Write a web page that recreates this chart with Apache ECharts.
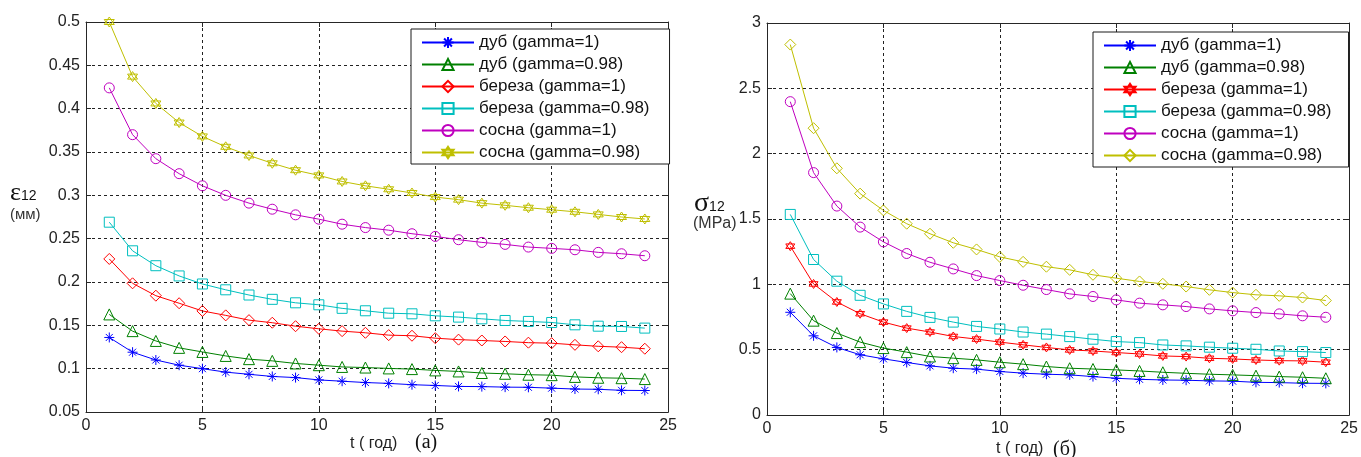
<!DOCTYPE html>
<html lang="ru">
<head>
<meta charset="UTF-8">
<title>ε12 / σ12</title>
<script src="https://cdn.jsdelivr.net/npm/echarts@6/dist/echarts.min.js"></script>
<style>
  html, body { margin: 0; padding: 0; background: #fff; }
  #wrap { position: relative; width: 1361px; height: 457px; }
  #left { position: absolute; left: 0; top: 0; width: 680px; height: 457px; }
  #right { position: absolute; left: 680px; top: 0; width: 681px; height: 457px; }
</style>
</head>
<body>
<div id="wrap">
  <div id="left"></div>
  <div id="right"></div>
</div>
<script>
// years
var tYears = [1, 2, 3, 4, 5, 6, 7, 8, 9, 10, 11, 12, 13, 14, 15, 16, 17, 18, 19, 20, 21, 22, 23, 24];

var seriesNames = ['дуб (gamma=1)', 'дуб (gamma=0.98)', 'береза (gamma=1)',
                   'береза (gamma=0.98)', 'сосна (gamma=1)', 'сосна (gamma=0.98)'];

// (а) deformation eps12, mm
var epsOak1     = [0.136, 0.119, 0.110, 0.104, 0.100, 0.096, 0.0935, 0.091, 0.0897, 0.087, 0.0855, 0.084, 0.083, 0.0815, 0.0806, 0.0795, 0.0793, 0.0787, 0.0785, 0.0775, 0.0765, 0.0762, 0.075, 0.0748];
var epsOak098   = [0.1626, 0.1433, 0.132, 0.124, 0.1193, 0.1147, 0.111, 0.109, 0.106, 0.104, 0.102, 0.1013, 0.1003, 0.0995, 0.098, 0.0968, 0.095, 0.0941, 0.093, 0.0925, 0.0905, 0.0895, 0.089, 0.088];
var epsBirch1   = [0.2266, 0.1985, 0.1842, 0.1755, 0.1666, 0.1615, 0.156, 0.153, 0.149, 0.146, 0.1433, 0.1414, 0.1387, 0.138, 0.1352, 0.1335, 0.1325, 0.1314, 0.130, 0.1294, 0.1275, 0.1258, 0.1248, 0.123];
var epsBirch098 = [0.269, 0.236, 0.2188, 0.207, 0.1977, 0.191, 0.185, 0.180, 0.176, 0.1737, 0.1696, 0.1668, 0.164, 0.1633, 0.161, 0.1595, 0.1575, 0.1556, 0.1545, 0.1533, 0.1506, 0.149, 0.1487, 0.1468];
var epsPine1    = [0.424, 0.370, 0.3423, 0.325, 0.311, 0.300, 0.291, 0.284, 0.2775, 0.2725, 0.2667, 0.2628, 0.2598, 0.2557, 0.2526, 0.2488, 0.2457, 0.2434, 0.2403, 0.2388, 0.2372, 0.2342, 0.2326, 0.2303];
var epsPine098  = [0.500, 0.437, 0.406, 0.384, 0.368, 0.356, 0.346, 0.337, 0.329, 0.323, 0.316, 0.311, 0.307, 0.3027, 0.298, 0.295, 0.291, 0.2885, 0.2857, 0.2834, 0.281, 0.278, 0.275, 0.2727];

// (б) stress sigma12, MPa
var sigOak1     = [0.786, 0.606, 0.517, 0.461, 0.430, 0.402, 0.376, 0.358, 0.351, 0.333, 0.320, 0.312, 0.307, 0.294, 0.281, 0.273, 0.268, 0.266, 0.261, 0.259, 0.250, 0.248, 0.243, 0.242];
var sigOak098   = [0.929, 0.722, 0.627, 0.558, 0.512, 0.481, 0.448, 0.435, 0.422, 0.404, 0.389, 0.371, 0.358, 0.352, 0.345, 0.337, 0.327, 0.319, 0.312, 0.307, 0.301, 0.294, 0.289, 0.281];
var sigBirch1   = [1.292, 1.003, 0.865, 0.775, 0.711, 0.665, 0.635, 0.601, 0.581, 0.558, 0.537, 0.517, 0.498, 0.490, 0.478, 0.467, 0.452, 0.447, 0.434, 0.429, 0.421, 0.416, 0.414, 0.404];
var sigBirch098 = [1.535, 1.190, 1.024, 0.916, 0.850, 0.793, 0.747, 0.711, 0.678, 0.658, 0.635, 0.619, 0.600, 0.580, 0.562, 0.554, 0.536, 0.529, 0.519, 0.511, 0.503, 0.490, 0.485, 0.478];
var sigPine1    = [2.398, 1.855, 1.599, 1.438, 1.325, 1.236, 1.169, 1.118, 1.067, 1.029, 0.993, 0.960, 0.927, 0.907, 0.881, 0.856, 0.843, 0.830, 0.812, 0.797, 0.784, 0.774, 0.759, 0.748];
var sigPine098  = [2.835, 2.195, 1.888, 1.694, 1.566, 1.464, 1.387, 1.318, 1.267, 1.210, 1.172, 1.135, 1.111, 1.073, 1.047, 1.022, 1.004, 0.983, 0.958, 0.937, 0.920, 0.912, 0.899, 0.876];

var colors = ['#0000ff', '#008000', '#ff0000', '#00bfbf', '#bf00bf', '#bfbf00'];

var ASTERISK = 'path://M0,5L10,5M5,0L5,10M1.5,1.5L8.5,8.5M8.5,1.5L1.5,8.5';
var HEXAGRAM = 'path://M5,0L9.33,7.5L0.67,7.5ZM5,10L0.67,2.5L9.33,2.5Z';

var symbolsLeft  = [[ASTERISK, 10], ['triangle', 11], ['diamond', 11], ['rect', 10], ['circle', 10], [HEXAGRAM, 10]];
var symbolsRight = [[ASTERISK, 10], ['triangle', 11], [HEXAGRAM, 9], ['rect', 10], ['circle', 10], ['diamond', 11]];

var AX = '#262626';
var SANS = '"Liberation Sans", Arial, sans-serif';
var SERIF = '"Liberation Serif", "Times New Roman", serif';

function pairs(vals) {
    var out = [];
    for (var i = 0; i < tYears.length; i++) out.push([tYears[i], vals[i]]);
    return out;
}

function makeSeries(list, syms) {
    var res = [];
    for (var i = 0; i < list.length; i++) {
        res.push({
            name: seriesNames[i],
            type: 'line',
            data: pairs(list[i]),
            symbol: syms[i][0],
            symbolSize: syms[i][1],
            showAllSymbol: true,
            animation: false,
            lineStyle: { color: colors[i], width: 1 },
            itemStyle: { color: 'rgba(0,0,0,0)', borderColor: colors[i], borderWidth: 1 },
            emphasis: { disabled: true },
            xAxisIndex: 0,
            yAxisIndex: 0,
            z: 3
        });
    }
    return res;
}

function makeOption(cfg) {
    var mainX = {
        type: 'value', min: 0, max: 25, interval: 5,
        axisLine: { show: true, onZero: false, lineStyle: { color: AX, width: 1 } },
        axisTick: { show: true, inside: true, length: 5, lineStyle: { color: AX } },
        axisLabel: { color: '#222', fontSize: 16, fontFamily: SANS, margin: 6 },
        splitLine: { show: true, lineStyle: { color: '#222', type: [3, 3], width: 1 } }
    };
    var topX = {
        type: 'value', min: 0, max: 25, interval: 5, position: 'top',
        axisLine: { show: true, onZero: false, lineStyle: { color: AX, width: 1 } },
        axisTick: { show: true, inside: true, length: 5, lineStyle: { color: AX } },
        axisLabel: { show: false },
        splitLine: { show: false }
    };
    var mainY = {
        type: 'value', min: cfg.yMin, max: cfg.yMax, interval: cfg.yStep,
        axisLine: { show: true, onZero: false, lineStyle: { color: AX, width: 1 } },
        axisTick: { show: true, inside: true, length: 5, lineStyle: { color: AX } },
        axisLabel: { color: '#222', fontSize: 16, fontFamily: SANS, margin: 6 },
        splitLine: { show: true, lineStyle: { color: '#222', type: [3, 3], width: 1 } }
    };
    var rightY = {
        type: 'value', min: cfg.yMin, max: cfg.yMax, interval: cfg.yStep, position: 'right',
        axisLine: { show: true, onZero: false, lineStyle: { color: AX, width: 1 } },
        axisTick: { show: true, inside: true, length: 5, lineStyle: { color: AX } },
        axisLabel: { show: false },
        splitLine: { show: false }
    };
    return {
        backgroundColor: '#fff',
        animation: false,
        grid: cfg.grid,
        xAxis: [mainX, topX],
        yAxis: [mainY, rightY],
        legend: {
            orient: 'vertical',
            left: cfg.legendLeft, top: cfg.legendTop,
            itemWidth: 52, itemHeight: 14, itemGap: 5,
            padding: cfg.legendPad,
            backgroundColor: '#fff',
            borderColor: '#1a1a1a', borderWidth: 1, borderRadius: 0,
            textStyle: { color: '#111', fontSize: 17, fontFamily: SANS },
            selectedMode: false,
            data: seriesNames
        },
        series: makeSeries(cfg.values, cfg.symbols),
        graphic: cfg.graphic
    };
}

var leftChart = echarts.init(document.getElementById('left'));
leftChart.setOption(makeOption({
    grid: { left: 86, right: 11, top: 22, bottom: 45 },
    yMin: 0.05, yMax: 0.5, yStep: 0.05,
    legendLeft: 411, legendTop: 29, legendPad: [5, 20, 3, 10],
    values: [epsOak1, epsOak098, epsBirch1, epsBirch098, epsPine1, epsPine098],
    symbols: symbolsLeft,
    graphic: [
        { type: 'text', left: 10, top: 180, style: {
            text: '{a|ε}{b|12}',
            rich: { a: { fontFamily: SERIF, fontSize: 26, fill: '#111' },
                    b: { fontFamily: SANS, fontSize: 14, fill: '#111', padding: [6, 0, 0, 0] } } } },
        { type: 'text', left: 10, top: 207, style: { text: '(мм)', font: '15px ' + SANS, fill: '#333' } },
        { type: 'text', left: 350, top: 436, style: { text: 't ( год)', font: '16px ' + SANS, fill: '#222' } },
        { type: 'text', left: 415, top: 433, style: { text: '(a)', font: '20px ' + SERIF, fill: '#111' } }
    ]
}));

var rightChart = echarts.init(document.getElementById('right'));
rightChart.setOption(makeOption({
    grid: { left: 87, right: 10, top: 23, bottom: 42 },
    yMin: 0, yMax: 3, yStep: 0.5,
    legendLeft: 413, legendTop: 32, legendPad: [5, 17, 3, 10],
    values: [sigOak1, sigOak098, sigBirch1, sigBirch098, sigPine1, sigPine098],
    symbols: symbolsRight,
    graphic: [
        { type: 'text', left: 14, top: 190, style: {
            text: '{a|σ}{b|12}',
            rich: { a: { fontFamily: SERIF, fontSize: 28, fill: '#111' },
                    b: { fontFamily: SANS, fontSize: 14, fill: '#111', padding: [6, 0, 0, 0] } } } },
        { type: 'text', left: 13, top: 216, style: { text: '(MPa)', font: '16px ' + SANS, fill: '#333' } },
        { type: 'text', left: 316, top: 441, style: { text: 't ( год)', font: '16px ' + SANS, fill: '#222' } },
        { type: 'text', left: 373, top: 440, style: { text: '(б)', font: '20px ' + SERIF, fill: '#111' } }
    ]
}));
</script>
</body>
</html>
